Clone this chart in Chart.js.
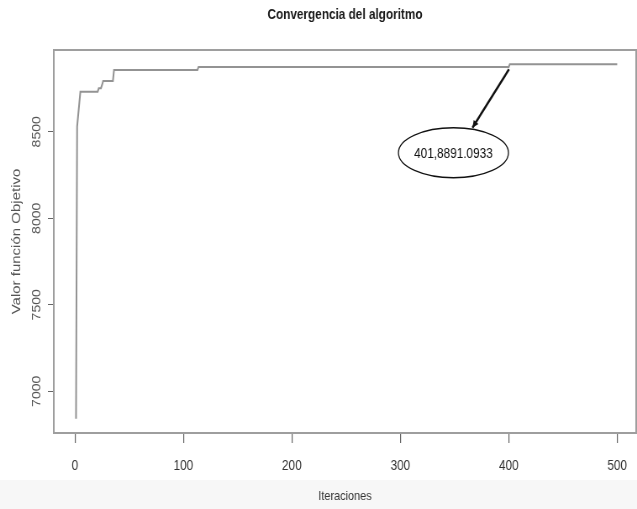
<!DOCTYPE html>
<html>
<head>
<meta charset="utf-8">
<script src="https://cdn.jsdelivr.net/npm/chart.js@4"></script>
<style>
  html, body { margin: 0; padding: 0; background: #ffffff; overflow: hidden; width: 637px; height: 509px; }
  /* the reference image is a horizontally compressed R plot: draw wide, then squeeze */
  #wrap { width: 758px; height: 509px; transform: scaleX(0.8404); transform-origin: 0 0; }
</style>
</head>
<body>
<div id="wrap"><canvas id="c" width="758" height="509"></canvas></div>
<script>
// ---- data ----
const iterations = [1, 2, 5, 21, 22, 24, 25, 26, 35, 36, 113, 114, 400, 401, 500];
const objectiveValues = [6841, 8530, 8732, 8732, 8752, 8752, 8771, 8794, 8794, 8858, 8858, 8875, 8875, 8891.0933, 8891.0933];
const xTickValues = [0, 100, 200, 300, 400, 500];
const yTickValues = [7000, 7500, 8000, 8500];
const titleText = "Convergencia del algoritmo";
const xTitle = "Iteraciones";
const yTitle = "Valor función Objetivo";
const calloutPoint = [401, 8891.0933];
const calloutLabelAt = [349, 8379];
const calloutText = "401,8891.0933";

const SANS = "'Liberation Sans', Arial, Helvetica, sans-serif";

const points = iterations.map((it, i) => ({ x: it, y: objectiveValues[i] }));

const decor = {
  id: 'decor',
  beforeDraw(chart) {
    const ctx = chart.ctx;
    ctx.save();
    ctx.fillStyle = '#ffffff';
    ctx.fillRect(0, 0, chart.width, chart.height);
    ctx.fillStyle = '#f7f7f7';
    ctx.fillRect(0, 480, chart.width, chart.height - 480);
    ctx.restore();
  },
  afterDraw(chart) {
    const ctx = chart.ctx;
    const a = chart.chartArea;
    const xs = chart.scales.x, ys = chart.scales.y;
    ctx.save();
    // plot box
    ctx.strokeStyle = '#9e9e9e';
    ctx.lineWidth = 2;
    ctx.strokeRect(a.left, a.top, a.right - a.left, a.bottom - a.top);

    // callout
    const px = xs.getPixelForValue(calloutPoint[0]);
    const py = ys.getPixelForValue(calloutPoint[1]);
    const cx = xs.getPixelForValue(calloutLabelAt[0]);
    const cy = ys.getPixelForValue(calloutLabelAt[1]);
    const rx = 65.5, ry = 25;
    ctx.beginPath();
    ctx.ellipse(cx, cy, rx, ry, 0, 0, Math.PI * 2);
    ctx.fillStyle = '#ffffff';
    ctx.fill();
    ctx.strokeStyle = '#111111';
    ctx.lineWidth = 1.3;
    ctx.stroke();
    // arrow
    const sx = px - 1, sy = py + 5;
    const tx = cx + 22.6, ty = cy - ry;
    ctx.beginPath();
    ctx.moveTo(sx, sy);
    ctx.lineTo(tx, ty);
    ctx.strokeStyle = '#111111';
    ctx.lineWidth = 2.4;
    ctx.stroke();
    const ang = Math.atan2(ty - sy, tx - sx);
    const hl = 8, hw = 0.45;
    ctx.beginPath();
    ctx.moveTo(tx, ty);
    ctx.lineTo(tx - hl * Math.cos(ang - hw), ty - hl * Math.sin(ang - hw));
    ctx.lineTo(tx - hl * Math.cos(ang + hw), ty - hl * Math.sin(ang + hw));
    ctx.closePath();
    ctx.fillStyle = '#111111';
    ctx.fill();
    // text
    ctx.fillStyle = '#111111';
    ctx.font = "14px " + SANS;
    ctx.textAlign = 'center';
    ctx.textBaseline = 'middle';
    ctx.fillText(calloutText, cx, cy + 1);
    ctx.restore();
  }
};

new Chart(document.getElementById('c'), {
  type: 'line',
  data: {
    datasets: [{
      data: points,
      borderColor: '#939393',
      borderWidth: 2,
      pointRadius: 0,
      tension: 0,
      fill: false
    }]
  },
  options: {
    responsive: false,
    animation: false,
    devicePixelRatio: 1,
    layout: { padding: { left: 0, right: 1, top: 0, bottom: 0 } },
    plugins: {
      legend: { display: false },
      tooltip: { enabled: false },
      title: {
        display: true,
        text: titleText,
        fullSize: false,
        color: '#1a1a1a',
        font: { family: SANS, size: 14, weight: 'bold' },
        padding: { top: 6.6, bottom: 26.6 }
      }
    },
    scales: {
      x: {
        type: 'linear',
        min: -19.5,
        max: 517.5,
        afterBuildTicks(scale) { scale.ticks = xTickValues.map(v => ({ value: v })); },
        afterFit(scale) { scale.height = 76; scale.paddingLeft = 0; scale.paddingRight = 0; },
        grid: { drawOnChartArea: false, drawTicks: true, tickLength: 10, color: '#666666', lineWidth: 1.2 },
        border: { display: false },
        ticks: {
          color: '#333333',
          font: { family: SANS, size: 14 },
          padding: 15,
          maxRotation: 0,
          minRotation: 0,
          callback: (v) => String(v)
        },
        title: {
          display: true,
          text: xTitle,
          color: '#333333',
          font: { family: SANS, size: 13 },
          padding: { top: 0, bottom: 5 }
        }
      },
      y: {
        type: 'linear',
        min: 6759,
        max: 8973,
        afterBuildTicks(scale) { scale.ticks = yTickValues.map(v => ({ value: v })); },
        afterFit(scale) { scale.width = 64; scale.paddingTop = 0; scale.paddingBottom = 0; },
        grid: { drawOnChartArea: false, drawTicks: true, tickLength: 7, color: '#666666', lineWidth: 1 },
        border: { display: false },
        ticks: {
          color: '#555555',
          font: { family: SANS, size: 14 },
          minRotation: 90,
          maxRotation: 90,
          crossAlign: 'center',
          padding: -3,
          callback: (v) => String(v)
        },
        title: {
          display: true,
          text: yTitle,
          color: '#555555',
          font: { family: SANS, size: 15 },
          padding: { top: 11, bottom: 0 }
        }
      }
    }
  },
  plugins: [decor]
});
</script>
</body>
</html>
